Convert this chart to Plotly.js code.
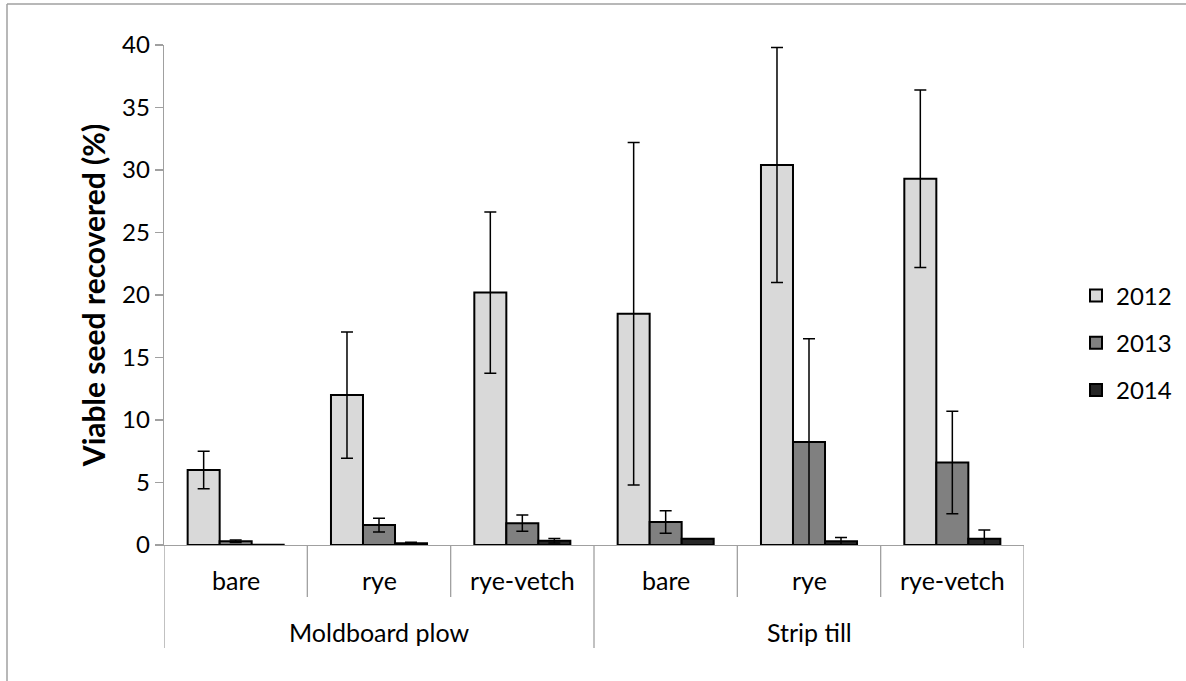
<!DOCTYPE html>
<html>
<head>
<meta charset="utf-8">
<script src="https://cdn.plot.ly/plotly-3.0.1.min.js"></script>
<style>
  html, body { margin: 0; padding: 0; background: #fff; }
  #chart { width: 1186px; height: 681px; }
</style>
</head>
<body>
<div id="chart"></div>
<script>
// ---- data ----
const subCategories = ["bare", "rye", "rye-vetch", "bare", "rye", "rye-vetch"];
const groupLabels = ["Moldboard plow", "Strip till"];
const groupSizes = [3, 3];
const years = ["2012", "2013", "2014"];
const values2012 = [6.0, 12.0, 20.2, 18.5, 30.4, 29.3];
const values2013 = [0.3, 1.6, 1.75, 1.85, 8.25, 6.6];
const values2014 = [0.02, 0.15, 0.35, 0.5, 0.3, 0.5];
const errors2012 = [1.5, 5.05, 6.45, 13.7, 9.4, 7.1];
const errors2013 = [0.1, 0.55, 0.65, 0.9, 8.25, 4.1];
const errors2014 = [0.0, 0.08, 0.18, 0.0, 0.3, 0.7];
const yTitle = "Viable seed recovered (%)";

// ---- styles ----
const colors = ["#d9d9d9", "#808080", "#262626"];
const axisColor = "#a0a0a0";
const W = 1186, H = 681;
const M = { l: 164, r: 162, t: 45, b: 136, autoexpand: false };
const PW = W - M.l - M.r, PH = H - M.t - M.b;
const labelFont = "Lato, 'Open Sans', sans-serif";

const xs = subCategories.map((_, i) => i);
const seriesVals = [values2012, values2013, values2014];
const seriesErr = [errors2012, errors2013, errors2014];

const traces = years.map((yr, k) => ({
  type: "bar",
  name: yr,
  x: xs,
  y: seriesVals[k],
  legendgroup: yr,
  marker: { color: colors[k], line: { color: "#000", width: 2 } },
  error_y: { type: "data", array: seriesErr[k], visible: true, color: "#000", thickness: 1.5, width: 6 },
  hoverinfo: "skip"
}));

// ---- category axis labels & separators ----
const annotations = [];
const shapes = [];
const pyd = px => -px / PH; // pixels below axis -> paper y

subCategories.forEach((lab, i) => {
  annotations.push({
    x: i, y: pyd(35), xref: "x", yref: "paper", text: lab, showarrow: false,
    font: { family: labelFont, size: 25, color: "#000" }, xanchor: "center", yanchor: "middle"
  });
});
let start = 0;
const groupBounds = [-0.5];
groupLabels.forEach((g, j) => {
  const n = groupSizes[j];
  const center = start + (n - 1) / 2;
  annotations.push({
    x: center, y: pyd(87), xref: "x", yref: "paper", text: g, showarrow: false,
    font: { family: labelFont, size: 25, color: "#000" }, xanchor: "center", yanchor: "middle"
  });
  start += n;
  groupBounds.push(start - 0.5);
});
for (let i = 0; i <= subCategories.length; i++) {
  const xb = i - 0.5;
  const isGroup = groupBounds.includes(xb);
  shapes.push({
    type: "line", xref: "x", yref: "paper", x0: xb, x1: xb,
    y0: 0, y1: isGroup ? pyd(103) : pyd(52),
    line: { color: axisColor, width: 1.3 }
  });
}
// outer chart border (left and top)
shapes.push({
  type: "line", xref: "paper", yref: "paper",
  x0: (7 - M.l) / PW, x1: (7 - M.l) / PW, y0: (H - 681 - M.b) / PH, y1: (H - 4 - M.b) / PH,
  line: { color: "#a0a0a0", width: 1.5 }
});
shapes.push({
  type: "line", xref: "paper", yref: "paper",
  x0: (7 - M.l) / PW, x1: (W - M.l) / PW, y0: (H - 4 - M.b) / PH, y1: (H - 4 - M.b) / PH,
  line: { color: "#a0a0a0", width: 1.5 }
});

const layout = {
  width: W, height: H,
  margin: M,
  paper_bgcolor: "#fff", plot_bgcolor: "#fff",
  barmode: "group", bargap: 0.33, bargroupgap: 0,
  showlegend: true,
  legend: {
    x: (1076 - M.l) / PW, xanchor: "left",
    y: (H - 343 - M.b) / PH, yanchor: "middle",
    font: { family: labelFont, size: 24, color: "#000" },
    tracegroupgap: 13, itemwidth: 30, bgcolor: "rgba(0,0,0,0)"
  },
  xaxis: {
    range: [-0.5, subCategories.length - 0.5],
    showticklabels: false, ticks: "", showgrid: false, zeroline: false,
    showline: true, linecolor: axisColor, linewidth: 1.3, fixedrange: true
  },
  yaxis: {
    range: [0, 40], dtick: 5, tick0: 0,
    ticks: "outside", ticklen: 8, tickcolor: axisColor, tickwidth: 1.3,
    showline: true, linecolor: axisColor, linewidth: 1.3,
    showgrid: false, zeroline: false,
    tickfont: { family: labelFont, size: 24, color: "#000" },
    title: { text: "<b>" + yTitle + "</b>", font: { family: labelFont, size: 30, color: "#000" }, standoff: 7 },
    fixedrange: true
  },
  annotations: annotations,
  shapes: shapes
};

Plotly.newPlot("chart", traces, layout, { displayModeBar: false, staticPlot: true });
</script>
</body>
</html>
